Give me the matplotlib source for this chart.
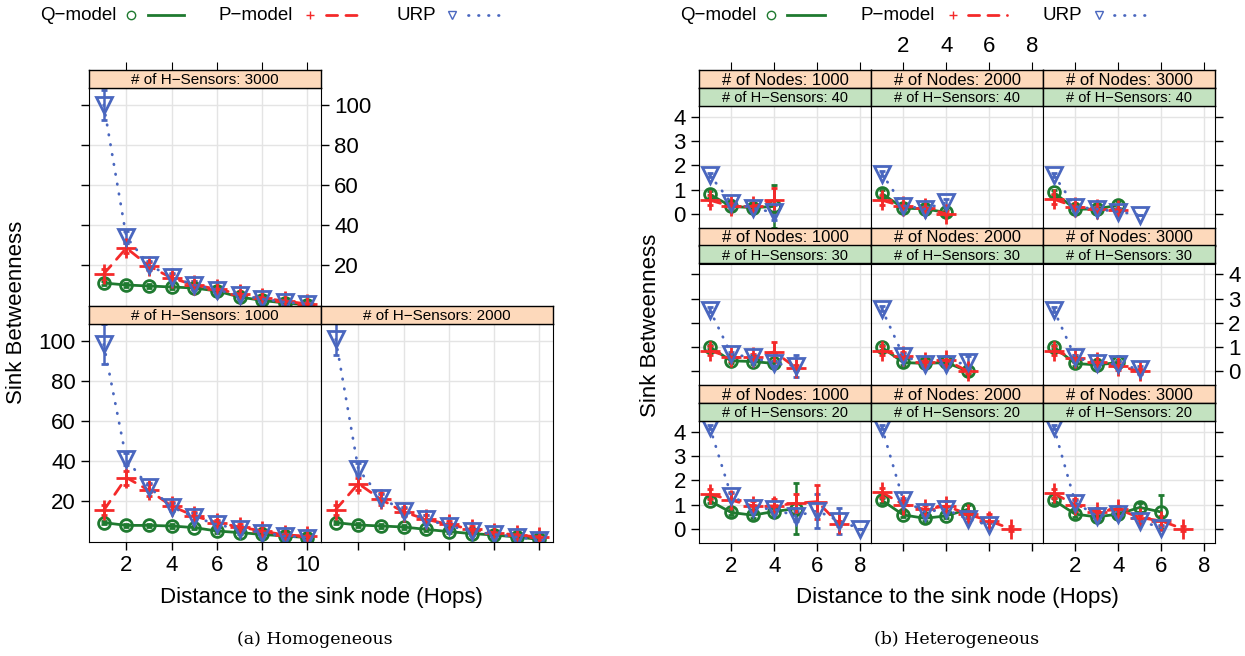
import matplotlib
matplotlib.use("Agg")
import matplotlib.pyplot as plt
from matplotlib.lines import Line2D

W, H = 1245, 656
plt.rcParams['font.family'] = ['Liberation Sans', 'DejaVu Sans']

GREEN = '#1f7a30'
RED = '#f42a2a'
BLUE = '#4a67bf'
ORANGE_STRIP = '#fdd9bb'
GREEN_STRIP = '#c3e2c0'
GRID = '#e4e4e4'

models = ['Q\u2212model', 'P\u2212model', 'URP']

# ---- (a) Homogeneous: hops 1..10 ----
hom_hops = [1, 2, 3, 4, 5, 6, 7, 8, 9, 10]

hom3000_q = [11.0, 10.0, 9.5, 9.0, 8.5, 7.0, 4.0, 2.3, 1.0, 0.2]
hom3000_p = [15.5, 28.5, 19.5, 13.5, 10.0, 8.0, 5.5, 3.5, 2.0, 0.5]
hom3000_u = [100.0, 34.0, 20.0, 14.0, 10.0, 7.5, 5.0, 3.0, 1.5, 0.3]
hom3000_q_err = [0.8, 0.8, 0.8, 0.8, 0.8, 0.8, 0.8, 0.8, 0.8, 0.8]
hom3000_p_err = [2.5, 2.5, 2.0, 2.0, 2.0, 1.5, 1.5, 1.5, 1.5, 1.5]
hom3000_u_err = [7.5, 3.0, 2.0, 2.0, 2.0, 1.5, 1.5, 1.5, 1.0, 1.0]

hom1000_q = [9.2, 7.8, 7.8, 7.5, 6.7, 5.0, 4.2, 3.3, 2.5, 1.7]
hom1000_p = [15.3, 31.7, 25.3, 17.5, 12.5, 9.2, 7.0, 5.0, 3.0, 2.5]
hom1000_u = [98.3, 40.8, 27.0, 17.0, 12.0, 8.3, 5.8, 4.2, 2.5, 1.7]
hom1000_q_err = [0.8, 0.8, 0.8, 0.8, 0.8, 0.8, 0.8, 0.8, 0.8, 0.8]
hom1000_p_err = [2.5, 3.5, 3.0, 2.0, 2.0, 1.5, 1.5, 1.5, 1.5, 1.5]
hom1000_u_err = [10.0, 3.0, 2.0, 2.0, 2.0, 1.5, 1.5, 1.5, 1.0, 1.0]

hom2000_q = [9.2, 8.0, 7.5, 7.0, 5.8, 4.7, 3.7, 3.0, 2.0, 0.8]
hom2000_p = [15.7, 28.7, 20.8, 14.5, 10.8, 8.3, 5.8, 4.2, 3.0, 2.0]
hom2000_u = [100.8, 35.8, 21.7, 15.0, 10.8, 7.5, 5.0, 3.3, 2.0, 0.3]
hom2000_q_err = [0.8, 0.8, 0.8, 0.8, 0.8, 0.8, 0.8, 0.8, 0.8, 0.8]
hom2000_p_err = [2.5, 3.0, 3.0, 2.0, 2.0, 1.5, 1.5, 1.5, 1.5, 1.5]
hom2000_u_err = [8.0, 3.0, 2.0, 2.0, 2.0, 1.5, 1.5, 1.5, 1.0, 1.0]

# ---- (b) Heterogeneous: nodes x H-sensors ----
het_hops = [1, 2, 3, 4, 5, 6, 7, 8]

n1000_h40_q = [0.80, 0.30, 0.25, 0.30]
n1000_h40_p = [0.56, 0.30, 0.30, 0.55]
n1000_h40_u = [1.60, 0.45, 0.23, 0.05]
n1000_h40_q_err = [0.15, 0.10, 0.10, 0.90]
n1000_h40_p_err = [0.20, 0.15, 0.15, 0.50]
n1000_h40_u_err = [0.10, 0.10, 0.10, 0.30]

n2000_h40_q = [0.84, 0.23, 0.20, 0.05]
n2000_h40_p = [0.56, 0.30, 0.23, 0.00]
n2000_h40_u = [1.66, 0.33, 0.20, 0.47]
n2000_h40_q_err = [0.15, 0.10, 0.10, 0.15]
n2000_h40_p_err = [0.20, 0.15, 0.15, 0.10]
n2000_h40_u_err = [0.10, 0.10, 0.10, 0.15]

n3000_h40_q = [0.88, 0.19, 0.19, 0.36]
n3000_h40_p = [0.60, 0.29, 0.19, 0.15]
n3000_h40_u = [1.60, 0.29, 0.19, 0.08, -0.05]
n3000_h40_q_err = [0.10, 0.10, 0.10, 0.15]
n3000_h40_p_err = [0.20, 0.15, 0.15, 0.10]
n3000_h40_u_err = [0.10, 0.10, 0.10, 0.15, 0.00]

n1000_h30_q = [1.00, 0.43, 0.40, 0.32]
n1000_h30_p = [0.85, 0.57, 0.57, 0.80, 0.15]
n1000_h30_u = [2.54, 0.70, 0.57, 0.32, 0.22]
n1000_h30_q_err = [0.10, 0.10, 0.10, 0.10]
n1000_h30_p_err = [0.20, 0.15, 0.15, 0.40, 0.10]
n1000_h30_u_err = [0.10, 0.10, 0.10, 0.10, 0.45]

n2000_h30_q = [0.99, 0.36, 0.32, 0.36, 0.00]
n2000_h30_p = [0.85, 0.64, 0.36, 0.46, 0.00]
n2000_h30_u = [2.58, 0.64, 0.29, 0.29, 0.36]
n2000_h30_q_err = [0.10, 0.10, 0.10, 0.10, 0.10]
n2000_h30_p_err = [0.20, 0.15, 0.15, 0.15, 0.10]
n2000_h30_u_err = [0.10, 0.10, 0.10, 0.10, 0.25]

n3000_h30_q = [1.00, 0.32, 0.26, 0.36]
n3000_h30_p = [0.85, 0.54, 0.36, 0.22, 0.00]
n3000_h30_u = [2.54, 0.57, 0.32, 0.29, 0.08]
n3000_h30_q_err = [0.10, 0.10, 0.10, 0.10]
n3000_h30_p_err = [0.20, 0.15, 0.15, 0.15, 0.10]
n3000_h30_u_err = [0.10, 0.10, 0.10, 0.15, 0.15]

n1000_h20_q = [1.15, 0.67, 0.56, 0.71, 0.83]
n1000_h20_p = [1.43, 1.18, 0.94, 0.94, 1.05, 1.12, 0.21]
n1000_h20_u = [4.20, 1.36, 0.87, 0.80, 0.53, 0.74, 0.32, 0.00]
n1000_h20_q_err = [0.10, 0.10, 0.10, 0.15, 1.05]
n1000_h20_p_err = [0.20, 0.30, 0.20, 0.30, 0.40, 0.70, 0.10]
n1000_h20_u_err = [0.10, 0.15, 0.10, 0.10, 0.20, 0.70, 0.55, 0.00]

n2000_h20_q = [1.18, 0.57, 0.43, 0.53, 0.80]
n2000_h20_p = [1.50, 1.00, 0.80, 0.94, 0.60, 0.32, 0.00]
n2000_h20_u = [4.20, 1.18, 0.70, 0.80, 0.39, 0.14]
n2000_h20_q_err = [0.10, 0.10, 0.10, 0.10, 0.20]
n2000_h20_p_err = [0.20, 0.20, 0.20, 0.20, 0.15, 0.30, 0.10]
n2000_h20_u_err = [0.10, 0.10, 0.10, 0.10, 0.10, 0.10]

n3000_h20_q = [1.18, 0.60, 0.49, 0.60, 0.88, 0.69]
n3000_h20_p = [1.46, 0.99, 0.71, 0.80, 0.46, 0.32, 0.00]
n3000_h20_u = [4.20, 1.08, 0.53, 0.62, 0.32, 0.04]
n3000_h20_q_err = [0.10, 0.10, 0.10, 0.10, 0.20, 0.70]
n3000_h20_p_err = [0.20, 0.25, 0.15, 0.15, 0.10, 0.20, 0.10]
n3000_h20_u_err = [0.10, 0.10, 0.10, 0.10, 0.10, 0.10]

STYLES = {
    'q': dict(color=GREEN, marker='o', ls='-', ms=8.5),
    'p': dict(color=RED, marker='+', ls=(0, (4, 3)), ms=15),
    'u': dict(color=BLUE, marker='v', ls=(0, (0.2, 3.4)), ms=11.5),
}

TICK_FS = 16
LABEL_FS = 16

fig = plt.figure(figsize=(W / 100, H / 100), dpi=100)


def box(x0, y0, x1, y1):
    return fig.add_axes([x0 / W, 1 - y1 / H, (x1 - x0) / W, (y1 - y0) / H])


def draw(ax, hops, vals, errs, key):
    st = STYLES[key]
    n = len(vals)
    ax.errorbar(hops[:n], vals, yerr=errs, color=st['color'], marker=st['marker'],
                ms=st['ms'], mfc='none', mew=2, ls=st['ls'], lw=2,
                capsize=2.5, elinewidth=1.8, capthick=1.8,
                dash_capstyle='round', solid_capstyle='round')


def strip(x0, y0, x1, y1, text, color, size, xlim):
    s = box(x0, y0, x1, y1)
    s.set_facecolor(color)
    s.set_xlim(*xlim)
    s.set_ylim(0, 1)
    s.set_yticks([])
    s.tick_params(axis='x', bottom=False, labelbottom=False)
    s.text(0.5, 0.42, text, transform=s.transAxes, ha='center', va='center', fontsize=size)
    for sp in s.spines.values():
        sp.set_linewidth(1)
    return s


def panel(x0, y0, x1, y1, xlim, ylim, xt, yt):
    ax = box(x0, y0, x1, y1)
    ax.set_xlim(*xlim)
    ax.set_ylim(*ylim)
    ax.set_xticks(xt)
    ax.set_yticks(yt)
    ax.grid(True, color=GRID, lw=1)
    ax.set_axisbelow(True)
    ax.tick_params(direction='out', length=6, width=1, labelsize=TICK_FS,
                   bottom=False, left=False, labelbottom=False, labelleft=False)
    return ax


# ---------------- (a) Homogeneous ----------------
hx = (0.35, 10.6)
hy = (-0.5, 108.5)
hxt = [2, 4, 6, 8, 10]
hyt = [20, 40, 60, 80, 100]

hom_panels = [
    ((89, 88, 321, 306), (89, 70, 321, 88), '# of H\u2212Sensors: 3000',
     hom3000_q, hom3000_p, hom3000_u, hom3000_q_err, hom3000_p_err, hom3000_u_err),
    ((89, 324, 321, 542), (89, 306, 321, 324), '# of H\u2212Sensors: 1000',
     hom1000_q, hom1000_p, hom1000_u, hom1000_q_err, hom1000_p_err, hom1000_u_err),
    ((321, 324, 553, 542), (321, 306, 553, 324), '# of H\u2212Sensors: 2000',
     hom2000_q, hom2000_p, hom2000_u, hom2000_q_err, hom2000_p_err, hom2000_u_err),
]

for i, (pb, sb, title, q, p, u, qe, pe, ue) in enumerate(hom_panels):
    ax = panel(*pb, hx, hy, hxt, hyt)
    draw(ax, hom_hops, q, qe, 'q')
    draw(ax, hom_hops, p, pe, 'p')
    draw(ax, hom_hops, u, ue, 'u')
    s = strip(*sb, title, ORANGE_STRIP, 11, hx)
    s.set_xticks(hxt)
    if i == 0:
        ax.tick_params(left=True, right=True, labelright=True)
        s.tick_params(axis='x', direction='out', length=6, top=True, labeltop=False)
    elif i == 1:
        ax.tick_params(left=True, labelleft=True, bottom=True, labelbottom=True)
    else:
        ax.tick_params(bottom=True)

fig.text(17 / W, 1 - 312 / H, 'Sink Betweenness', rotation=90, ha='center', va='center',
         fontsize=LABEL_FS)
fig.text(321 / W, 1 - 597 / H, 'Distance to the sink node (Hops)', ha='center', va='center',
         fontsize=LABEL_FS)
fig.text(315 / W, 1 - 640 / H, '(a) Homogeneous', ha='center', va='center', fontsize=12.5,
         family='DejaVu Serif')

# ---------------- (b) Heterogeneous ----------------
rx = (0.5, 8.5)
ry = (-0.57, 4.45)
rxt = [2, 4, 6, 8]
ryt = [0, 1, 2, 3, 4]

cols = [699, 871, 1043, 1215]
row_tops = [70, 227.5, 385]
nodes = [1000, 2000, 3000]
hsens = [40, 30, 20]

het_data = [
    [(n1000_h40_q, n1000_h40_p, n1000_h40_u, n1000_h40_q_err, n1000_h40_p_err, n1000_h40_u_err),
     (n2000_h40_q, n2000_h40_p, n2000_h40_u, n2000_h40_q_err, n2000_h40_p_err, n2000_h40_u_err),
     (n3000_h40_q, n3000_h40_p, n3000_h40_u, n3000_h40_q_err, n3000_h40_p_err, n3000_h40_u_err)],
    [(n1000_h30_q, n1000_h30_p, n1000_h30_u, n1000_h30_q_err, n1000_h30_p_err, n1000_h30_u_err),
     (n2000_h30_q, n2000_h30_p, n2000_h30_u, n2000_h30_q_err, n2000_h30_p_err, n2000_h30_u_err),
     (n3000_h30_q, n3000_h30_p, n3000_h30_u, n3000_h30_q_err, n3000_h30_p_err, n3000_h30_u_err)],
    [(n1000_h20_q, n1000_h20_p, n1000_h20_u, n1000_h20_q_err, n1000_h20_p_err, n1000_h20_u_err),
     (n2000_h20_q, n2000_h20_p, n2000_h20_u, n2000_h20_q_err, n2000_h20_p_err, n2000_h20_u_err),
     (n3000_h20_q, n3000_h20_p, n3000_h20_u, n3000_h20_q_err, n3000_h20_p_err, n3000_h20_u_err)],
]

for r in range(3):
    rt = row_tops[r]
    for c in range(3):
        x0, x1 = cols[c], cols[c + 1]
        ax = panel(x0, rt + 36, x1, rt + 157.5, rx, ry, rxt, ryt)
        q, p, u, qe, pe, ue = het_data[r][c]
        draw(ax, het_hops, q, qe, 'q')
        draw(ax, het_hops, p, pe, 'p')
        draw(ax, het_hops, u, ue, 'u')
        so = strip(x0, rt, x1, rt + 18, '# of Nodes: %d' % nodes[c], ORANGE_STRIP, 12, rx)
        strip(x0, rt + 18, x1, rt + 36, '# of H\u2212Sensors: %d' % hsens[r], GREEN_STRIP, 10.5, rx)
        if r == 0:
            so.set_xticks(rxt)
            so.tick_params(axis='x', direction='out', length=6, labelsize=TICK_FS,
                           top=True, labeltop=(c == 1))
        if r == 2:
            ax.tick_params(bottom=True, labelbottom=(c != 1))
        if c == 0:
            ax.tick_params(left=True, labelleft=(r != 1))
        if c == 2:
            ax.tick_params(right=True, labelright=(r == 1))

fig.text(650 / W, 1 - 325 / H, 'Sink Betweenness', rotation=90, ha='center', va='center',
         fontsize=LABEL_FS)
fig.text(957 / W, 1 - 597 / H, 'Distance to the sink node (Hops)', ha='center', va='center',
         fontsize=LABEL_FS)
fig.text(957 / W, 1 - 640 / H, '(b) Heterogeneous', ha='center', va='center', fontsize=12.5,
         family='DejaVu Serif')


# ---------------- legends ----------------
def legend(x_text, x_marks, x_lines, y=15):
    yy = 1 - y / H
    for name, key, xt, xm, (la, lb) in zip(models, ['q', 'p', 'u'], x_text, x_marks, x_lines):
        st = STYLES[key]
        fig.text(xt / W, yy, name, ha='left', va='center', fontsize=13.5)
        fig.add_artist(Line2D([xm / W], [yy], transform=fig.transFigure, color=st['color'],
                              marker=st['marker'], ms=6, mfc='none', mew=1, ls='none'))
        fig.add_artist(Line2D([la / W, lb / W], [yy, yy], transform=fig.transFigure,
                              color=st['color'], ls=st['ls'], lw=2, dash_capstyle='round'))


legend([40, 219, 397], [131, 310, 452], [(148, 184), (326, 362), (468, 503)])
legend([680, 861, 1042], [771, 953, 1099], [(787, 825), (968, 1007), (1114, 1150)])

fig.savefig('out.png', dpi=100)
